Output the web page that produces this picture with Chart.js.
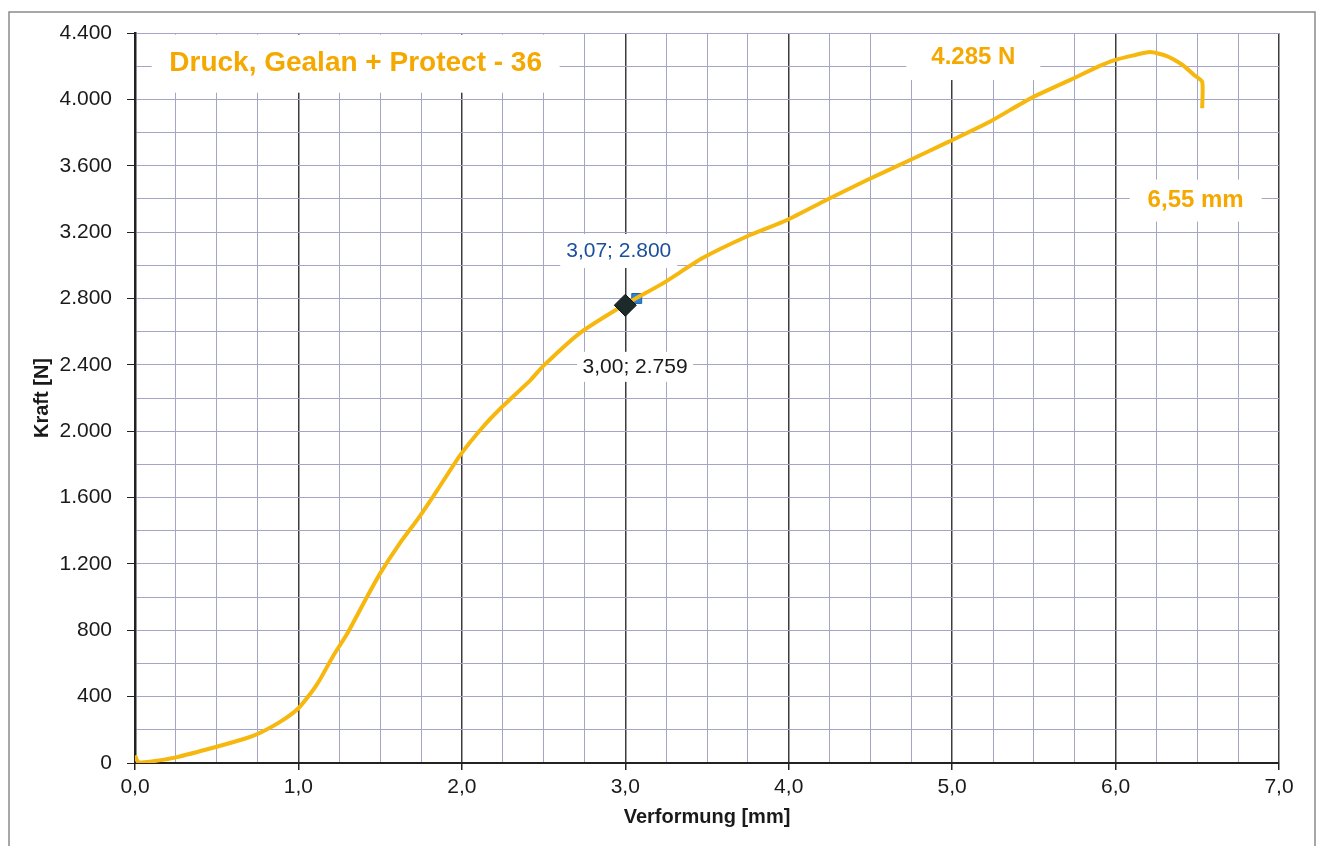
<!DOCTYPE html>
<html>
<head>
<meta charset="utf-8">
<script src="https://cdn.jsdelivr.net/npm/chart.js@4.4.1/dist/chart.umd.min.js"></script>
<style>
  html, body { margin: 0; padding: 0; background: #fff; }
  #wrap { width: 1321px; height: 846px; }
</style>
</head>
<body>
<div id="wrap"><canvas id="chart" width="1321" height="846"></canvas></div>
<script>
'use strict';

// Verformung [mm] / Kraft [N]
let deformation = [0, 0.02, 0.09, 0.25, 0.5, 0.68, 0.76, 0.89, 1.0, 1.09, 1.13, 1.21, 1.3, 1.42, 1.5, 1.62, 1.74, 1.85, 1.99, 2.13, 2.25, 2.42, 2.5, 2.72, 2.99, 3.23, 3.47, 3.74, 3.99, 4.23, 4.48, 4.72, 4.98, 5.23, 5.48, 5.72, 5.9, 5.99, 6.11, 6.21, 6.31, 6.41, 6.48, 6.53, 6.53];
let force = [45, 5, 8, 34, 98, 149, 179, 249, 330, 440, 500, 641, 782, 1002, 1143, 1324, 1484, 1645, 1856, 2027, 2150, 2308, 2395, 2590, 2759, 2891, 3042, 3172, 3273, 3393, 3514, 3624, 3745, 3865, 4006, 4116, 4200, 4235, 4265, 4285, 4262, 4207, 4147, 4106, 3946];

// marked points
let pointA = { x: 3.00, y: 2759 };
let pointB = { x: 3.07, y: 2800 };

let xTicks = [0, 1, 2, 3, 4, 5, 6, 7];
let yTicks = [0, 400, 800, 1200, 1600, 2000, 2400, 2800, 3200, 3600, 4000, 4400];

let chartTitle = 'Druck, Gealan + Protect - 36';
let maxLabel = '4.285 N';
let endLabel = '6,55 mm';

function deNumber(v) {
  return String(v).replace(/\B(?=(\d{3})+(?!\d))/g, '.');
}

let curve = [];
for (let i = 0; i < deformation.length; i++) {
  curve.push({ x: deformation[i], y: force[i] });
}

const FONT = '"Liberation Sans", Arial, sans-serif';

// text boxes with white background, anchored in data coordinates
let boxes = [
  { text: chartTitle, x: 1.35, y: 4215, color: '#f5a800', font: 'bold 28px ' + FONT, w: 408, h: 58 },
  { text: maxLabel, x: 5.13, y: 4255, color: '#f5a800', font: 'bold 24px ' + FONT, w: 134, h: 46 },
  { text: endLabel, x: 6.49, y: 3390, color: '#f5a800', font: 'bold 24px ' + FONT, w: 132, h: 42 },
  { text: pointB.x.toFixed(2).replace('.', ',') + '; ' + deNumber(pointB.y), x: 2.96, y: 3086, color: '#1b4f9c', font: '21px ' + FONT, w: 117, h: 34 },
  { text: pointA.x.toFixed(2).replace('.', ',') + '; ' + deNumber(pointA.y), x: 3.06, y: 2388, color: '#1a1a1a', font: '21px ' + FONT, w: 116, h: 30 }
];

const framePlugin = {
  id: 'frame',
  beforeDraw(chart) {
    const c = chart.ctx;
    c.save();
    c.fillStyle = '#fff';
    c.fillRect(0, 0, chart.width, chart.height);
    c.strokeStyle = '#8a8a8a';
    c.lineWidth = 1.5;
    c.strokeRect(9, 12, 1306, 850);
    c.restore();
  },
  beforeDatasetsDraw(chart) {
    const c = chart.ctx;
    const xs = chart.scales.x, ys = chart.scales.y;
    c.save();
    boxes.forEach(b => {
      const px = xs.getPixelForValue(b.x);
      const py = ys.getPixelForValue(b.y);
      c.fillStyle = '#fff';
      c.fillRect(px - b.w / 2, py - b.h / 2, b.w, b.h);
      c.font = b.font;
      c.fillStyle = b.color;
      c.textAlign = 'center';
      c.textBaseline = 'middle';
      c.fillText(b.text, px, py);
    });
    c.restore();
  }
};

const ctx = document.getElementById('chart');

let config = {
  type: 'scatter',
  data: {
    datasets: [
      {
        label: 'Kraft',
        data: curve,
        showLine: true,
        borderColor: 'rgb(246, 184, 14)',
        borderWidth: 4,
        pointRadius: 0,
        tension: 0.2,
        order: 1
      },
      {
        label: 'B',
        data: [pointB],
        pointStyle: 'rect',
        pointRadius: 7,
        backgroundColor: '#2b82d6',
        borderColor: '#1f5fa8',
        borderWidth: 1,
        order: 2
      },
      {
        label: 'A',
        data: [pointA],
        pointStyle: 'rectRot',
        pointRadius: 11,
        backgroundColor: '#1d2a2a',
        borderColor: '#111',
        borderWidth: 1,
        order: 0
      }
    ]
  },
  options: {
    responsive: false,
    animation: false,
    layout: { padding: { left: 0, top: 33, right: 42, bottom: 0 } },
    plugins: {
      legend: { display: false },
      tooltip: { enabled: false }
    },
    scales: {
      x: {
        type: 'linear',
        min: xTicks[0],
        max: xTicks[xTicks.length - 1],
        afterFit: s => { s.height = 83; },
        border: { color: '#222', width: 2 },
        grid: {
          color: c => (c.tick && c.tick.value % 1 === 0) ? '#3c3c3c' : '#a4a4c6',
          lineWidth: c => (c.tick && c.tick.value % 1 === 0) ? 1.5 : 1,
          tickColor: c => (c.tick && c.tick.value % 1 === 0) ? '#222' : 'rgba(0,0,0,0)',
          tickLength: 7
        },
        ticks: {
          stepSize: 0.25,
          autoSkip: false,
          maxRotation: 0,
          padding: 5,
          color: '#1a1a1a',
          font: { family: FONT, size: 21 },
          callback: v => xTicks.includes(v) ? v.toFixed(1).replace('.', ',') : ''
        },
        title: {
          display: true,
          text: 'Verformung [mm]',
          color: '#1a1a1a',
          font: { family: FONT, size: 20, weight: 'bold' },
          padding: { top: 0, bottom: 17 }
        }
      },
      y: {
        type: 'linear',
        min: yTicks[0],
        max: yTicks[yTicks.length - 1],
        afterFit: s => { s.width = 135; },
        border: { color: '#222', width: 2.5 },
        grid: {
          color: '#a4a4c6',
          lineWidth: 1,
          tickColor: c => (c.tick && yTicks.includes(c.tick.value)) ? '#222' : 'rgba(0,0,0,0)',
          tickLength: 8
        },
        ticks: {
          stepSize: 200,
          autoSkip: false,
          padding: 15,
          color: '#1a1a1a',
          font: { family: FONT, size: 21 },
          callback: v => yTicks.includes(v) ? deNumber(v) : ''
        },
        title: {
          display: true,
          text: 'Kraft [N]',
          color: '#1a1a1a',
          font: { family: FONT, size: 20, weight: 'bold' },
          padding: { top: 30, bottom: 0 }
        }
      }
    }
  },
  plugins: [framePlugin]
};

// eslint-disable-next-line no-undef
new Chart(ctx, config);
</script>
</body>
</html>
